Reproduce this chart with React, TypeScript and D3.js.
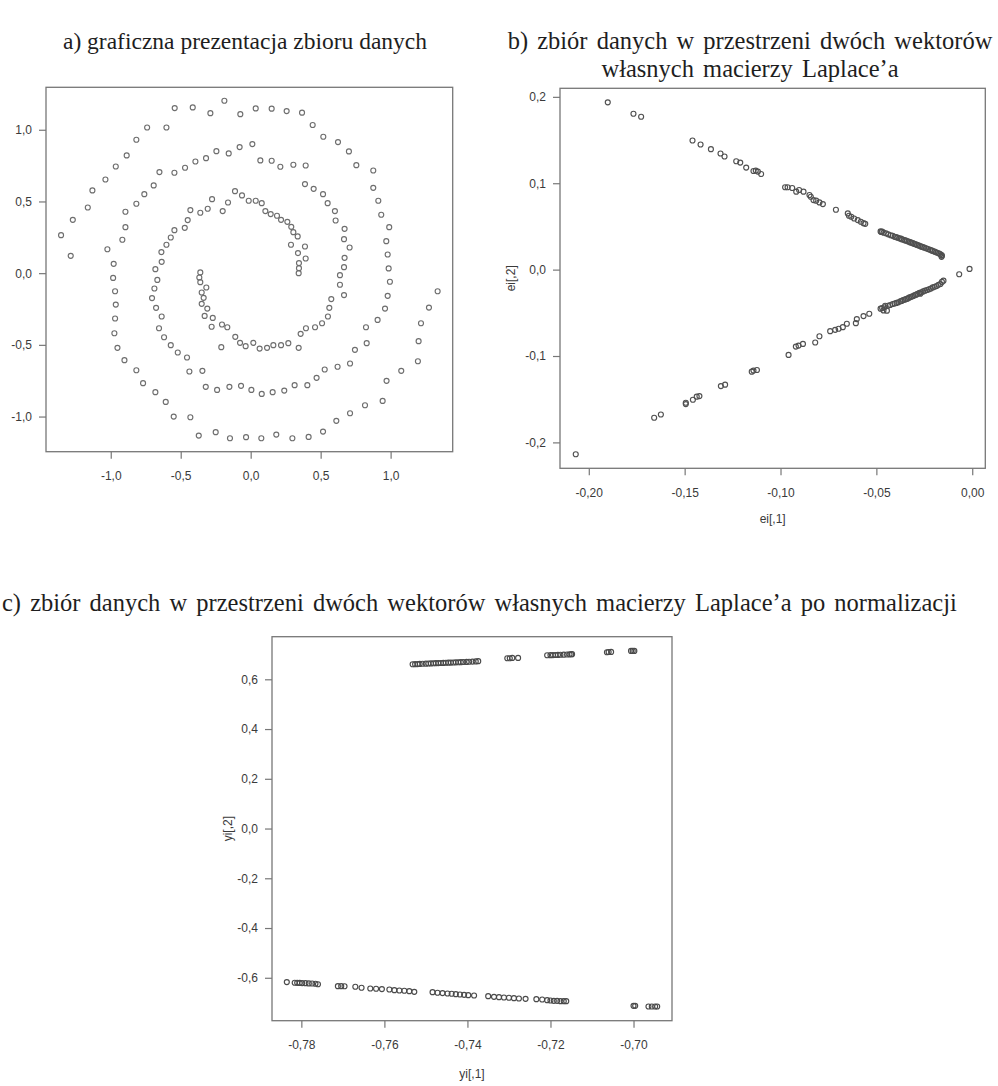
import React, { useEffect, useRef } from "react";
import * as d3 from "d3";

const W = 998;
const H = 1086;

// a) spiral data set (x, y)
const spiralPoints: [number, number][] = [
  [-0.188, 1.202], [-0.543, 1.151], [-0.414, 1.156], [-0.288, 1.116], [-0.074, 1.109], [0.036, 1.149],
  [0.15, 1.147], [0.257, 1.13], [0.367, 1.119], [0.443, 1.033], [-0.74, 1.016], [-0.602, 1.016],
  [-0.817, 0.93], [0.519, 0.951], [0.624, 0.914],
  [-0.886, 0.821], [0.702, 0.849], [0.012, 0.9], [-0.079, 0.879], [-0.157, 0.835], [-0.245, 0.851],
  [-0.319, 0.802], [-0.395, 0.779], [-0.469, 0.735], [-0.545, 0.7], [-0.652, 0.705], [-0.964, 0.744],
  [-1.038, 0.653], [0.069, 0.786], [0.15, 0.784], [0.212, 0.742], [0.305, 0.756], [0.393, 0.751],
  [0.755, 0.753], [0.876, 0.716],
  [-1.131, 0.577], [-1.164, 0.458], [-1.271, 0.372], [-0.693, 0.612], [-0.76, 0.551], [-0.817, 0.484],
  [-0.895, 0.428], [0.388, 0.621], [0.45, 0.588], [0.517, 0.551], [0.55, 0.488], [0.602, 0.433],
  [0.876, 0.595], [0.912, 0.505], [0.933, 0.407], [-0.112, 0.572], [-0.062, 0.542], [-0.014, 0.505],
  [0.036, 0.505], [0.079, 0.488], [-0.276, 0.516], [-0.162, 0.493], [-0.431, 0.44], [-0.36, 0.421],
  [-0.307, 0.449], [-0.2, 0.433], [0.105, 0.433], [0.143, 0.412], [0.188, 0.4], [0.217, 0.372],
  [0.262, 0.358],
  [-1.355, 0.265], [-1.286, 0.121], [-0.895, 0.321], [-0.917, 0.233], [-1.024, 0.167], [-0.45, 0.37],
  [-0.471, 0.316], [-0.545, 0.3], [-0.571, 0.249], [-0.602, 0.198], [-0.638, 0.147], [-0.636, 0.079],
  [0.29, 0.323], [0.305, 0.286], [0.336, 0.256], [0.288, 0.198], [0.388, 0.186], [0.338, 0.14],
  [0.393, 0.102], [0.607, 0.367], [0.671, 0.309], [0.667, 0.237], [0.707, 0.179], [0.671, 0.107],
  [0.99, 0.321], [0.969, 0.223], [0.979, 0.13],
  [-0.979, 0.065], [-0.983, -0.033], [-0.681, 0.028], [-0.667, -0.047], [0.345, 0.07], [0.345, 0.035],
  [0.343, 0.0], [-0.36, 0.005], [-0.367, -0.03], [-0.36, -0.063], [0.667, 0.042], [0.638, -0.014],
  [0.986, 0.033], [0.995, -0.06],
  [-0.969, -0.126], [-0.964, -0.219], [-0.688, -0.107], [-0.705, -0.174], [-0.676, -0.242],
  [-0.317, -0.1], [-0.35, -0.135], [-0.336, -0.172], [-0.35, -0.214], [-0.31, -0.247], [0.638, -0.081],
  [0.667, -0.153], [0.576, -0.181], [0.562, -0.242], [0.979, -0.158], [0.96, -0.247], [1.336, -0.126],
  [1.274, -0.24],
  [-0.969, -0.316], [-0.974, -0.419], [-0.952, -0.521], [-0.636, -0.302], [-0.655, -0.384],
  [-0.619, -0.447], [-0.571, -0.502], [-0.329, -0.298], [-0.271, -0.312], [-0.279, -0.374],
  [-0.205, -0.358], [-0.167, -0.377], [-0.11, -0.444], [-0.076, -0.486], [-0.036, -0.509],
  [0.019, -0.486], [0.064, -0.526], [0.117, -0.521], [0.162, -0.502], [0.217, -0.502], [0.269, -0.488],
  [0.343, -0.521], [0.357, -0.423], [0.395, -0.384], [0.46, -0.377], [0.51, -0.349], [0.552, -0.302],
  [-0.21, -0.516], [0.907, -0.326], [0.824, -0.377], [0.829, -0.488], [1.217, -0.349], [1.2, -0.474],
  [-0.902, -0.607], [-0.817, -0.677], [-0.521, -0.553], [-0.455, -0.588], [-0.438, -0.686],
  [-0.345, -0.681], [-0.321, -0.793], [-0.24, -0.814], [-0.152, -0.793], [-0.069, -0.786],
  [0.005, -0.814], [0.079, -0.842], [0.157, -0.83], [0.24, -0.819], [0.314, -0.781], [0.405, -0.781],
  [0.471, -0.73], [0.529, -0.672], [0.621, -0.653], [0.71, -0.63], [0.745, -0.535], [1.076, -0.681],
  [1.195, -0.614], [0.971, -0.751],
  [-0.769, -0.767], [-0.681, -0.83], [-0.607, -0.898], [-0.55, -1.0], [-0.431, -1.005], [-0.371, -1.133],
  [-0.25, -1.109], [-0.148, -1.151], [-0.033, -1.144], [0.076, -1.151], [0.183, -1.126], [0.298, -1.151],
  [0.414, -1.142], [0.517, -1.105], [0.612, -1.03], [0.71, -0.977], [0.817, -0.921], [0.943, -0.891],
];

// b) two eigenvectors of the Laplacian (ei[,1], ei[,2])
const eigenPoints: [number, number][] = [
  [-0.1901, 0.1936], [-0.1767, 0.1804], [-0.1727, 0.177], [-0.1459, 0.1495], [-0.1417, 0.1448],
  [-0.1363, 0.1394], [-0.1313, 0.1344], [-0.1292, 0.1309], [-0.1231, 0.1255], [-0.121, 0.1239],
  [-0.1179, 0.1181], [-0.1141, 0.1142], [-0.1129, 0.1146], [-0.1118, 0.1135], [-0.1101, 0.1107],
  [-0.0976, 0.0953], [-0.0963, 0.0953], [-0.0939, 0.0945], [-0.0918, 0.0902], [-0.0903, 0.0922],
  [-0.088, 0.0902], [-0.0849, 0.0864], [-0.0842, 0.0844], [-0.0828, 0.0805], [-0.0814, 0.0798],
  [-0.0797, 0.0778], [-0.0779, 0.0759], [-0.0711, 0.0693], [-0.0649, 0.0651], [-0.0643, 0.0623],
  [-0.0631, 0.0612], [-0.0616, 0.0592], [-0.0597, 0.0573], [-0.0581, 0.0554], [-0.0567, 0.0538],
  [-0.0558, 0.053],
  [-0.0478, 0.0442], [-0.0474, 0.0436], [-0.047, 0.044], [-0.0462, 0.0428], [-0.045, 0.042],
  [-0.0438, 0.0408], [-0.0425, 0.0398], [-0.0415, 0.0392], [-0.0405, 0.038], [-0.0398, 0.0378],
  [-0.039, 0.037], [-0.038, 0.0362], [-0.0372, 0.0358], [-0.0365, 0.035], [-0.0355, 0.0342],
  [-0.0348, 0.0338], [-0.034, 0.033], [-0.0332, 0.0326], [-0.0325, 0.0318], [-0.0318, 0.0312],
  [-0.031, 0.0306], [-0.0302, 0.0298], [-0.0295, 0.0294], [-0.0288, 0.0286], [-0.028, 0.028],
  [-0.0272, 0.0272], [-0.0265, 0.0266], [-0.0258, 0.0262], [-0.025, 0.0254], [-0.024, 0.0246],
  [-0.023, 0.0238], [-0.022, 0.023], [-0.0212, 0.0222], [-0.0205, 0.0215], [-0.0196, 0.0208],
  [-0.0188, 0.02], [-0.018, 0.0192], [-0.0172, 0.0186], [-0.0166, 0.0178], [-0.016, 0.0168],
  [-0.0158, 0.016], [-0.016, 0.0148],
  [-0.0014, 0.0008], [-0.0068, -0.0054],
  [-0.015, -0.0128], [-0.0158, -0.0142], [-0.0166, -0.0166], [-0.0176, -0.0176], [-0.0186, -0.019],
  [-0.0196, -0.0198], [-0.0206, -0.0206], [-0.0216, -0.022], [-0.0226, -0.0228], [-0.0236, -0.0236],
  [-0.0246, -0.0244], [-0.0256, -0.0252], [-0.0265, -0.0262], [-0.0271, -0.0279], [-0.0275, -0.027],
  [-0.0285, -0.028], [-0.0292, -0.029], [-0.03, -0.0296], [-0.0308, -0.0305], [-0.0315, -0.0312],
  [-0.0322, -0.0318], [-0.033, -0.0325], [-0.0338, -0.0336], [-0.0345, -0.034], [-0.0352, -0.0348],
  [-0.036, -0.0352], [-0.0368, -0.0362], [-0.0375, -0.0366], [-0.0385, -0.0378], [-0.0395, -0.0385],
  [-0.0405, -0.0392], [-0.0415, -0.0398], [-0.0428, -0.041], [-0.044, -0.0418], [-0.0454, -0.0418],
  [-0.0458, -0.0436], [-0.047, -0.0445], [-0.0478, -0.0452], [-0.0463, -0.0472], [-0.0445, -0.0475],
  [-0.0537, -0.0511], [-0.0567, -0.0538], [-0.0602, -0.0573], [-0.0607, -0.062], [-0.0654, -0.0627],
  [-0.0675, -0.0666], [-0.0697, -0.0685], [-0.0715, -0.0697], [-0.0741, -0.0712], [-0.0797, -0.0771],
  [-0.0819, -0.0844], [-0.0883, -0.086], [-0.0906, -0.0879], [-0.092, -0.0891], [-0.0958, -0.0987],
  [-0.1123, -0.1162], [-0.1141, -0.1169], [-0.115, -0.1181], [-0.1289, -0.1332], [-0.1311, -0.1348],
  [-0.1423, -0.1464], [-0.1437, -0.1471], [-0.1457, -0.1506], [-0.1494, -0.1541], [-0.1494, -0.1557],
  [-0.1624, -0.1677], [-0.1659, -0.1715], [-0.2068, -0.2137],
];

// c) the same two eigenvectors after row normalization (yi[,1], yi[,2])
const normPoints: [number, number][] = [
  [-0.7532, 0.6604], [-0.7526, 0.661], [-0.752, 0.6612], [-0.7515, 0.6618], [-0.7508, 0.6624],
  [-0.75, 0.6628], [-0.7494, 0.6634], [-0.7488, 0.664], [-0.7482, 0.6644], [-0.7476, 0.6648],
  [-0.747, 0.6652], [-0.7464, 0.6656], [-0.7458, 0.666], [-0.7452, 0.6664], [-0.7446, 0.6668],
  [-0.744, 0.6672], [-0.7434, 0.6676], [-0.7428, 0.6682], [-0.7422, 0.6686], [-0.7416, 0.669],
  [-0.741, 0.6694], [-0.7402, 0.67], [-0.7396, 0.6706], [-0.7388, 0.6712], [-0.738, 0.672],
  [-0.7374, 0.6728],
  [-0.7304, 0.6846], [-0.7298, 0.6846], [-0.7292, 0.6859], [-0.7278, 0.6859],
  [-0.7208, 0.6966], [-0.72, 0.697], [-0.7194, 0.6974], [-0.7188, 0.6978], [-0.7182, 0.6982],
  [-0.7176, 0.6988], [-0.7168, 0.6992], [-0.716, 0.6998], [-0.7154, 0.7004], [-0.715, 0.7008],
  [-0.7148, 0.7012],
  [-0.7064, 0.7087], [-0.706, 0.7098], [-0.7054, 0.71],
  [-0.7006, 0.7141], [-0.7002, 0.7141], [-0.6998, 0.7141],
  [-0.7835, -0.6174],
  [-0.7816, -0.62], [-0.781, -0.6204], [-0.7804, -0.6208], [-0.7798, -0.6214], [-0.779, -0.6218],
  [-0.7782, -0.6226], [-0.7774, -0.6232], [-0.7766, -0.624], [-0.776, -0.6262],
  [-0.7712, -0.6336], [-0.7704, -0.6336], [-0.7696, -0.634],
  [-0.767, -0.6362], [-0.7655, -0.6403],
  [-0.7634, -0.643], [-0.762, -0.6443], [-0.7606, -0.6456],
  [-0.7588, -0.647], [-0.7576, -0.6497], [-0.7564, -0.651], [-0.7552, -0.6523], [-0.754, -0.6537],
  [-0.7528, -0.6564],
  [-0.7484, -0.6577], [-0.7472, -0.6604], [-0.746, -0.6617], [-0.7448, -0.6631], [-0.7438, -0.6644],
  [-0.7428, -0.6658], [-0.7418, -0.6671], [-0.7408, -0.6685], [-0.7398, -0.6698], [-0.7384, -0.6711],
  [-0.735, -0.6738], [-0.7336, -0.6765], [-0.7324, -0.6779], [-0.7312, -0.6792], [-0.73, -0.6805],
  [-0.7288, -0.6819], [-0.7276, -0.6832], [-0.726, -0.6846],
  [-0.7234, -0.6859], [-0.722, -0.6872], [-0.7208, -0.6899], [-0.72, -0.6913], [-0.7192, -0.6926],
  [-0.7184, -0.6926], [-0.7176, -0.694], [-0.7168, -0.694], [-0.7162, -0.694],
  [-0.7, -0.7128], [-0.6996, -0.7128],
  [-0.6964, -0.7154], [-0.6956, -0.7154], [-0.6948, -0.7154], [-0.6943, -0.7154],
];

const spiralTicksX = [-1, -0.5, 0, 0.5, 1];
const spiralTicksY = [-1, -0.5, 0, 0.5, 1];
const eigenTicksX = [-0.2, -0.15, -0.1, -0.05, 0];
const eigenTicksY = [-0.2, -0.1, 0, 0.1, 0.2];
const normTicksX = [-0.78, -0.76, -0.74, -0.72, -0.7];
const normTicksY = [-0.6, -0.4, -0.2, 0, 0.2, 0.4, 0.6];

const titleA = ["a) graficzna prezentacja zbioru danych"];
const titleB = ["b) zbiór danych w przestrzeni dwóch wektorów", "własnych macierzy Laplace’a"];
const titleC = ["c) zbiór danych w przestrzeni dwóch wektorów własnych macierzy Laplace’a po normalizacji"];

const SANS = "'Liberation Sans', Arial, sans-serif";
const SERIF = "'Liberation Serif', 'Times New Roman', serif";
const AXIS_COLOR = "#777";
const TEXT_COLOR = "#3a3a3a";

type Box = { left: number; right: number; top: number; bottom: number };

type Panel = {
  points: [number, number][];
  box: Box;
  ticksX: number[];
  ticksY: number[];
  decX: number;
  decY: number;
  xLabel?: string;
  yLabel?: string;
  xLabelGap?: number;
  yLabelGap?: number;
  color: string;
};

// R-like default range: data extent padded by 4% on both sides
const padExtent = (ext: [number, number]): [number, number] => {
  const r = ext[1] - ext[0];
  return [ext[0] - 0.04 * r, ext[1] + 0.04 * r];
};

const commaFormat = (dec: number) => (v: any) =>
  d3.format(`.${dec}f`)(v).replace("−", "-").replace(".", ",");

function drawPanel(root: d3.Selection<SVGSVGElement, unknown, null, undefined>, p: Panel) {
  const { box } = p;
  const x = d3
    .scaleLinear()
    .domain(padExtent(d3.extent(p.points, (d) => d[0]) as [number, number]))
    .range([box.left, box.right]);
  const y = d3
    .scaleLinear()
    .domain(padExtent(d3.extent(p.points, (d) => d[1]) as [number, number]))
    .range([box.bottom, box.top]);

  const g = root.append("g");

  const xAxis = g
    .append("g")
    .attr("transform", `translate(0,${box.bottom})`)
    .call(
      d3.axisBottom(x).tickValues(p.ticksX).tickSize(7).tickSizeOuter(0).tickPadding(13).tickFormat(commaFormat(p.decX))
    );
  const yAxis = g
    .append("g")
    .attr("transform", `translate(${box.left},0)`)
    .call(
      d3.axisLeft(y).tickValues(p.ticksY).tickSize(7).tickSizeOuter(0).tickPadding(7).tickFormat(commaFormat(p.decY))
    );

  [xAxis, yAxis].forEach((a) => {
    a.select(".domain").remove();
    a.selectAll(".tick line").attr("stroke", AXIS_COLOR).attr("stroke-width", 1.2);
    a.selectAll(".tick text")
      .attr("fill", TEXT_COLOR)
      .style("font-family", SANS)
      .style("font-size", "12px");
  });

  g.append("rect")
    .attr("x", box.left)
    .attr("y", box.top)
    .attr("width", box.right - box.left)
    .attr("height", box.bottom - box.top)
    .attr("fill", "none")
    .attr("stroke", AXIS_COLOR)
    .attr("stroke-width", 1.3);

  g.append("g")
    .selectAll("circle")
    .data(p.points)
    .join("circle")
    .attr("cx", (d) => x(d[0]))
    .attr("cy", (d) => y(d[1]))
    .attr("r", 2.5)
    .attr("fill", "none")
    .attr("stroke", p.color)
    .attr("stroke-width", 1.15);

  if (p.xLabel) {
    g.append("text")
      .attr("x", (box.left + box.right) / 2)
      .attr("y", box.bottom + (p.xLabelGap || 52))
      .attr("text-anchor", "middle")
      .attr("dominant-baseline", "middle")
      .attr("fill", TEXT_COLOR)
      .style("font-family", SANS)
      .style("font-size", "12px")
      .text(p.xLabel);
  }
  if (p.yLabel) {
    const cx = box.left - (p.yLabelGap || 47);
    const cy = (box.top + box.bottom) / 2;
    g.append("text")
      .attr("transform", `translate(${cx},${cy}) rotate(-90)`)
      .attr("text-anchor", "middle")
      .attr("dominant-baseline", "middle")
      .attr("fill", TEXT_COLOR)
      .style("font-family", SANS)
      .style("font-size", "12px")
      .text(p.yLabel);
  }
}

function drawTitle(
  root: d3.Selection<SVGSVGElement, unknown, null, undefined>,
  lines: string[],
  x: number,
  y: number,
  anchor: string,
  size: number,
  wordSpacing: number
) {
  const t = root
    .append("text")
    .attr("x", x)
    .attr("y", y)
    .attr("text-anchor", anchor)
    .attr("fill", "#1e1e1e")
    .style("font-family", SERIF)
    .style("font-size", `${size}px`)
    .style("word-spacing", `${wordSpacing}px`);
  lines.forEach((line, i) => {
    t.append("tspan").attr("x", x).attr("dy", i === 0 ? 0 : 28).text(line);
  });
}

export default function App() {
  const ref = useRef<SVGSVGElement | null>(null);

  useEffect(() => {
    const svg = d3.select(ref.current as SVGSVGElement);
    svg.selectAll("*").remove();

    svg.append("rect").attr("width", W).attr("height", H).attr("fill", "#fff");

    drawTitle(svg, titleA, 245, 49, "middle", 23.5, 0);
    drawTitle(svg, titleB, 750, 49, "middle", 24.5, 3);
    drawTitle(svg, titleC, 2, 611, "start", 24.5, 3);

    drawPanel(svg, {
      points: spiralPoints,
      box: { left: 46, right: 452.7, top: 87.3, bottom: 451.7 },
      ticksX: spiralTicksX,
      ticksY: spiralTicksY,
      decX: 1,
      decY: 1,
      color: "#6e6e6e",
    });

    drawPanel(svg, {
      points: eigenPoints,
      box: { left: 560, right: 985.3, top: 88.3, bottom: 468.3 },
      ticksX: eigenTicksX,
      ticksY: eigenTicksY,
      decX: 2,
      decY: 1,
      xLabel: "ei[,1]",
      yLabel: "ei[,2]",
      xLabelGap: 52,
      yLabelGap: 48,
      color: "#505050",
    });

    drawPanel(svg, {
      points: normPoints,
      box: { left: 272, right: 672, top: 636.7, bottom: 1020.7 },
      ticksX: normTicksX,
      ticksY: normTicksY,
      decX: 2,
      decY: 1,
      xLabel: "yi[,1]",
      yLabel: "yi[,2]",
      xLabelGap: 54,
      yLabelGap: 43,
      color: "#4a4a4a",
    });
  }, []);

  return (
    <svg
      ref={ref}
      width={W}
      height={H}
      style={{ position: "absolute", left: 0, top: 0, display: "block" }}
    />
  );
}
